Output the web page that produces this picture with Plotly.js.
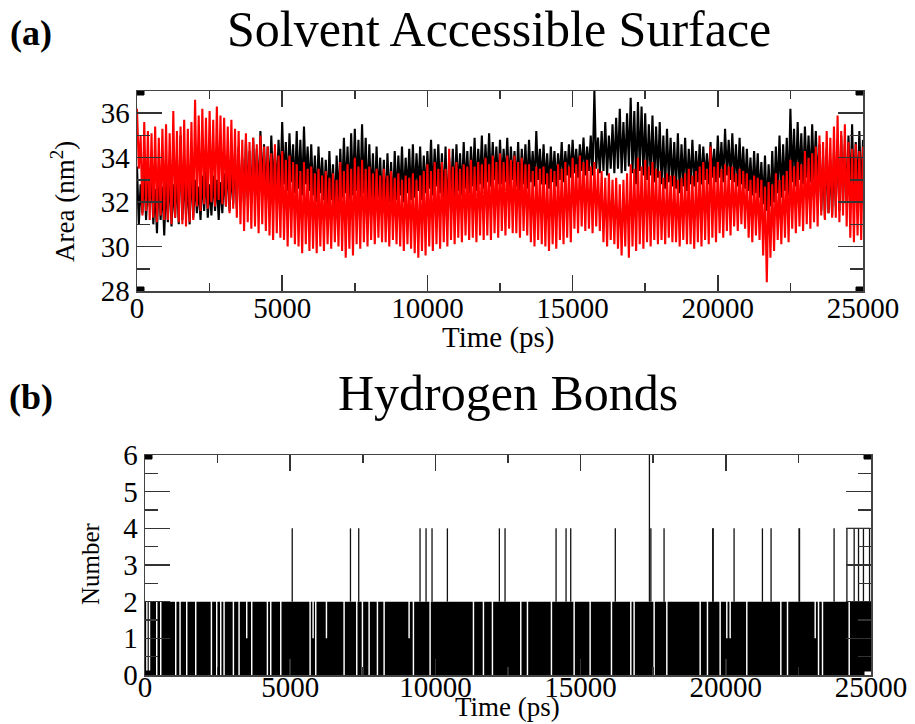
<!DOCTYPE html>
<html><head><meta charset="utf-8">
<script src="https://cdn.plot.ly/plotly-3.0.1.min.js"></script>
<style>html,body{margin:0;padding:0;background:#fff}#chart{width:915px;height:724px}</style>
</head><body><div id="chart"></div>
<script>
// ---------- (a) Solvent accessible surface: per-frame-window max / min (nm^2), one window every 125 ps ----------
const sasWindowPs = 125;
const blackHigh = [
33.6,32.8,33.3,32.9, 33.1,32.6,33.4,32.7, 33.0,33.5,32.8,33.2, 35.0,33.3,32.9,33.6,
33.0,32.7,33.2,33.4, 32.8,33.2,33.0,32.9, 33.3,33.9,33.5,34.2, 34.5,34.0,34.8,34.3,
34.9,34.4,35.2,34.6, 34.5,35.0,34.3,34.8, 35.6,34.7,35.1,34.6, 35.2,34.8,35.4,34.5,
34.6,34.1,34.5,34.0, 33.9,34.3,33.7,34.1, 34.4,34.9,34.5,35.1, 35.3,34.8,35.5,34.9,
34.6,34.2,34.5,34.0, 33.9,34.2,33.8,34.3, 34.1,34.5,34.0,34.4, 34.6,34.2,34.5,34.1,
34.3,34.8,34.4,34.6, 34.2,34.5,34.0,34.4, 34.6,34.2,34.7,34.3, 34.5,34.9,34.4,35.0,
34.6,35.1,34.7,34.5, 34.8,34.4,34.9,34.5, 34.3,34.7,34.4,34.6, 34.8,34.3,35.2,34.4,
34.6,34.2,34.5,34.3, 34.2,34.7,34.3,34.6, 34.8,34.4,34.6,34.9, 34.5,35.0,37.0,34.9,
35.2,35.6,35.0,35.5, 35.8,36.2,35.6,36.0, 36.7,36.1,36.5,36.3, 36.0,35.5,35.9,35.4,
35.6,35.0,35.3,34.9, 34.7,35.1,34.6,34.9, 34.4,34.8,34.3,34.6, 34.5,34.2,34.7,34.4,
35.0,34.7,35.3,34.8, 35.1,34.6,34.9,34.5, 34.4,34.0,34.3,34.2, 33.8,34.1,33.7,34.3,
34.5,35.0,34.6,34.9, 36.2,35.3,35.6,35.1, 35.4,35.0,35.5,35.2, 34.6,34.1,34.4,33.9,
34.3,34.8,35.0,34.6, 35.0,35.5,34.7,35.2, 34.8];
const blackLow = [
31.0,31.5,31.2,31.8, 31.0,30.6,31.2,30.5, 31.1,30.9,31.3,31.0, 31.2,31.4,31.0,31.3,
31.5,31.2,31.6,31.3, 31.4,31.6,31.2,31.5, 31.8,31.6,31.9,31.7, 32.0,31.8,32.2,31.9,
32.5,32.2,32.6,32.3, 32.4,32.7,32.5,32.6, 32.8,32.5,32.9,32.4, 32.6,32.3,32.8,32.5,
32.3,32.0,32.4,32.1, 31.8,32.1,31.6,32.0, 32.2,32.4,32.1,32.3, 32.5,32.2,32.4,32.0,
32.1,31.9,32.2,31.8, 31.6,32.0,31.7,32.1, 32.3,32.0,32.4,32.1, 32.2,32.5,32.1,32.4,
32.6,32.3,32.7,32.4, 32.0,31.2,32.3,32.1, 32.5,32.3,32.6,32.4, 32.7,32.5,32.8,32.6,
32.9,32.7,33.0,32.8, 32.8,32.9,32.7,33.0, 32.7,32.5,32.8,32.6, 32.9,32.7,33.0,32.8,
32.8,32.6,32.9,32.7, 33.0,32.9,33.2,33.1, 33.3,33.1,33.4,33.2, 33.4,33.2,33.5,33.3,
33.4,33.2,33.5,33.3, 33.5,33.3,33.4,33.6, 33.3,32.8,33.4,33.2, 33.0,33.2,32.9,33.1,
32.8,32.6,32.9,32.7, 32.6,32.4,32.7,32.5, 32.8,32.7,32.9,32.8, 33.0,32.8,33.1,32.9,
33.1,32.9,33.2,33.0, 32.9,32.7,32.8,32.6, 32.5,32.3,32.4,32.2, 31.9,31.6,31.8,32.0,
32.4,32.2,32.5,32.3, 32.9,32.7,33.0,32.8, 33.1,32.9,33.0,32.8, 31.6,31.3,31.5,31.4,
31.8,31.6,31.9,32.0, 32.3,32.1,32.4,32.2, 32.0];
const redHigh = [
36.2,35.0,35.6,35.2, 35.1,35.4,34.9,35.3, 35.5,35.1,36.1,35.2, 35.4,35.7,35.3,35.6,
36.6,35.9,36.2,35.8, 36.1,35.7,36.3,35.9, 35.8,35.4,35.7,35.3, 35.2,34.8,35.1,34.7,
34.9,34.6,35.0,34.5, 34.5,34.2,34.6,34.1, 34.3,33.9,34.1,33.8, 33.7,33.4,33.8,33.5,
33.6,33.3,33.5,33.2, 33.4,33.1,33.3,33.0, 33.8,33.4,33.7,33.5, 34.0,33.6,33.9,33.5,
33.6,33.3,33.5,33.2, 33.5,33.2,33.4,33.1, 33.3,33.0,33.2,33.1, 33.3,33.0,33.2,33.4,
33.7,33.4,33.8,33.5, 33.8,33.5,34.4,33.6, 33.8,33.5,33.7,33.6, 33.9,33.6,33.8,33.7,
34.0,33.7,34.1,33.8, 34.2,33.8,34.1,33.9, 34.1,33.8,34.0,33.7, 33.7,33.4,33.6,33.5,
33.6,33.3,33.5,33.4, 33.7,33.5,33.8,33.6, 34.0,33.7,34.1,33.8, 33.9,33.6,33.8,33.5,
33.4,33.1,33.3,33.0, 33.1,32.8,33.0,33.3, 33.7,33.5,34.0,33.6, 33.9,33.6,33.8,33.5,
33.4,33.1,33.3,33.2, 33.2,33.0,33.1,33.3, 33.5,33.2,33.4,33.6, 33.8,33.5,34.5,33.6,
33.8,33.5,33.7,33.6, 33.6,33.3,33.5,33.4, 33.3,33.0,33.2,33.1, 33.0,32.7,32.9,32.8,
33.3,33.0,33.2,33.4, 33.9,33.6,33.8,33.7, 34.3,34.0,34.2,34.5, 35.0,34.7,35.2,34.9,
35.4,35.9,35.2,35.5, 34.7,34.4,34.6,34.3, 34.5];
const redLow = [
33.5,31.4,31.6,31.2, 31.3,31.1,31.4,31.2, 31.2,31.0,31.3,31.1, 31.0,30.9,31.1,31.2,
31.8,31.6,31.9,31.7, 32.0,31.8,32.1,31.9, 31.8,31.5,31.7,31.3, 31.0,30.7,31.1,30.8,
30.9,30.6,31.0,30.7, 30.5,30.3,30.6,30.4, 30.3,30.0,30.4,30.1, 30.0,29.7,30.1,29.8,
29.9,29.7,30.0,29.8, 30.1,29.9,30.2,30.0, 29.8,29.5,29.9,29.6, 30.1,29.9,30.2,30.0,
30.3,30.1,30.4,30.2, 30.2,30.0,30.3,30.1, 30.0,29.8,30.1,29.9, 29.7,29.5,29.8,29.6,
30.0,29.8,30.1,29.9, 30.2,30.0,30.3,30.1, 30.4,30.2,30.5,30.3, 30.4,30.2,30.5,30.3,
30.5,30.3,30.6,30.4, 30.7,30.5,30.8,30.6, 30.6,30.4,30.7,30.5, 30.2,30.0,30.3,30.1,
30.0,29.8,30.1,29.9, 30.3,30.1,30.4,30.2, 30.8,30.6,30.9,30.7, 30.8,30.6,30.9,30.7,
30.2,30.0,30.3,30.1, 29.9,29.6,30.0,29.5, 30.0,29.8,30.1,29.9, 30.2,30.0,30.3,30.1,
30.3,30.1,30.4,30.2, 30.2,30.0,30.3,30.1, 30.1,29.9,30.2,30.0, 30.3,30.1,30.4,30.2,
30.6,30.4,30.7,30.5, 30.9,30.7,31.0,30.8, 30.4,30.2,30.5,30.3, 29.6,28.4,29.5,29.8,
30.3,30.1,30.4,30.2, 30.8,30.6,30.9,30.7, 31.0,30.8,31.1,30.9, 31.4,31.2,31.5,31.3,
31.3,31.1,31.4,30.9, 30.4,30.2,30.5,30.3, 30.5];

// ---------- (b) Hydrogen bonds: count change points (ps, number) ----------
const hbTime = [0,
40,90, 130,180, 379,429, 517,567, 1033,1083, 1182,1232, 1412,1462, 1722,1772, 2262,2312, 2445,2495,
2583,2633, 2698,2748, 3019,3069, 3214,3264, 3478,3528, 3650,3700, 4190,4240, 4305,4355, 4650,4700,
5660,5710, 5763,5813, 5855,5905, 6223,6273, 6831,6881, 7267,7317, 7462,7512, 7692,7742, 7979,8029,
8209,8259, 9069,9119, 9218,9268, 9792,9842, 11285,11335, 11629,11679, 11939,11989, 12915,12965,
13145,13195, 13971,14021, 14752,14802, 15303,15353, 16038,16088, 16704,16754, 16818,16868,
17507,17557, 17944,17994, 19092,19142, 19344,19394, 19780,19830, 20010,20060, 20125,20175,
20698,20748, 21870,21920, 22100,22150, 23053,23103, 23168,23218, 23305,23355, 24224,24274, 25000];
const hbCount = [2,
0,2, 0,2, 0,2, 0,2, 0,2, 0,2, 0,2, 0,2, 0,2, 0,2,
0,2, 0,2, 0,2, 0,2, 1,2, 0,2, 0,2, 0,2, 0,2,
0,2, 1,2, 0,2, 1,2, 0,2, 0,2, 0,2, 0,2, 0,2,
0,2, 1,2, 0,2, 0,2, 0,2, 0,2, 0,2, 0,2,
0,2, 0,2, 0,2, 0,2, 0,2, 0,2, 0,2,
0,2, 0,2, 0,2, 0,2, 0,2, 1,2, 1,2,
0,2, 0,2, 0,2, 1,2, 0,2, 0,2, 0,2, 2];
// short excursions above 2 bonds: time (ps) and peak count
const hbPeakTime = [5070, 7075, 7360, 9471, 9678, 9884, 10413, 12203, 12398, 14155, 14499, 14660, 16195,
  17370, 17420, 17874, 19550, 19565, 20285, 21261, 21559, 22524, 22539, 23729, 24420, 24570, 24740];
const hbPeakCount = [4,4,4,4,4,4,4,4,4,4,4,4,4, 6,4,4,4,4,4,4,4,4,4,4,4,4,4];
// a longer stretch at 4 bonds near the end
const hbPlateauTime = [24170, 24170, 24950, 24950];
const hbPlateauCount = [2, 4, 4, 2];

const xTicks = [0, 5000, 10000, 15000, 20000, 25000];
const sasTicks = [28, 30, 32, 34, 36];
const hbTicks = [0, 1, 2, 3, 4, 5, 6];

// ---------- build traces ----------
function zig(hi, lo) {
  const x = [], y = [];
  for (let i = 0; i < hi.length; i++) {
    const t = i * sasWindowPs;
    x.push(t); y.push(hi[i]);
    if (i < hi.length - 1) { x.push(t + sasWindowPs / 2); y.push(lo[i]); }
  }
  return {x, y};
}
const zb = zig(blackHigh, blackLow), zr = zig(redHigh, redLow);
const px = [], py = [];
for (let i = 0; i < hbPeakTime.length; i++) {
  px.push(hbPeakTime[i], hbPeakTime[i], null);
  py.push(2, hbPeakCount[i], null);
}
px.push(...hbPlateauTime); py.push(...hbPlateauCount);

const FONT = 'Liberation Serif, Times New Roman, serif';
const traces = [
  {x: zb.x, y: zb.y, type: 'scatter', mode: 'lines', line: {color: '#000', width: 2.1}, xaxis: 'x', yaxis: 'y', hoverinfo: 'skip'},
  {x: zr.x, y: zr.y, type: 'scatter', mode: 'lines', line: {color: '#ff0000', width: 2.1}, xaxis: 'x', yaxis: 'y', hoverinfo: 'skip'},
  {x: hbTime, y: hbCount, type: 'scatter', mode: 'lines', line: {shape: 'hv', width: 0, color: '#000'}, fill: 'tozeroy', fillcolor: '#000', xaxis: 'x2', yaxis: 'y2', hoverinfo: 'skip'},
  {x: px, y: py, type: 'scatter', mode: 'lines', line: {color: '#111', width: 1.3}, xaxis: 'x2', yaxis: 'y2', hoverinfo: 'skip', connectgaps: false}
];

function xa(domain, anchor, standoff) {
  return {domain, anchor, range: [0, 25000], tickvals: xTicks, ticktext: xTicks.map(String),
    ticks: 'inside', ticklen: 16, tickwidth: 1.5, tickcolor: '#333', ticklabelstandoff: standoff,
    minor: {dtick: 2500, tick0: 0, ticks: 'inside', ticklen: 8, tickwidth: 1.5, tickcolor: '#333'},
    mirror: 'allticks', showline: true, linecolor: '#444', linewidth: 1.5,
    showgrid: false, zeroline: false, tickfont: {family: FONT, size: 29, color: '#000'}};
}
function ya(domain, anchor, range, ticks, minorStep) {
  return {domain, anchor, range, tickvals: ticks, ticktext: ticks.map(String),
    ticks: 'inside', ticklen: 25, tickwidth: 1.5, tickcolor: '#333',
    minor: {dtick: minorStep, tick0: range[0], ticks: 'inside', ticklen: 13, tickwidth: 1.5, tickcolor: '#333'},
    mirror: 'allticks', showline: true, linecolor: '#444', linewidth: 1.5,
    showgrid: false, zeroline: false, tickfont: {family: FONT, size: 29, color: '#000'}};
}

function corner(xref, yref, xv, yv, fill) {
  return {type: 'rect', xref, yref, xsizemode: 'pixel', ysizemode: 'pixel', xanchor: xv, yanchor: yv,
    x0: -7, x1: 7, y0: -4, y1: 4, fillcolor: fill, line: {color: '#000', width: 1}, layer: 'above'};
}
function txt(text, x, y, size, angle) {
  return {text, xref: 'paper', yref: 'paper', x: x / 915, y: 1 - y / 724, showarrow: false,
    font: {family: FONT, size, color: '#000'}, xanchor: 'center', yanchor: 'middle', textangle: angle || 0};
}

const layout = {
  width: 915, height: 724, margin: {l: 0, r: 0, t: 0, b: 0},
  paper_bgcolor: '#fff', plot_bgcolor: '#fff', showlegend: false,
  font: {family: FONT, color: '#000'},
  xaxis: xa([137/915, 863/915], 'y', -9),
  yaxis: ya([1 - 291/724, 1 - 91/724], 'x', [28, 37], sasTicks, 1),
  xaxis2: xa([145/915, 871/915], 'y2', -14),
  yaxis2: ya([1 - 675/724, 1 - 455/724], 'x2', [0, 6], hbTicks, 0.5),
  annotations: [
    txt('<b>(a)</b>', 31, 33, 36),
    txt('Solvent Accessible Surface', 499, 29, 50),
    txt('Time (ps)', 498, 337, 29),
    txt('Area (nm<sup>2</sup>)', 63, 202, 27, -90),
    txt('<b>(b)</b>', 31, 397, 36),
    txt('Hydrogen Bonds', 508, 393, 50),
    txt('Time (ps)', 507, 707, 27),
    txt('Number', 90, 564, 25, -90)
  ],
  shapes: [
    corner('x', 'y', 0, 37, '#000'), corner('x', 'y', 0, 28, '#000'),
    corner('x', 'y', 25000, 37, '#000'), corner('x', 'y', 25000, 28, '#000'),
    corner('x2', 'y2', 0, 6, '#000'), corner('x2', 'y2', 0, 0, '#000'),
    corner('x2', 'y2', 25000, 6, '#000'), corner('x2', 'y2', 25000, 0, '#fff')
  ]
};
Plotly.newPlot('chart', traces, layout, {staticPlot: true, displayModeBar: false});
</script></body></html>
